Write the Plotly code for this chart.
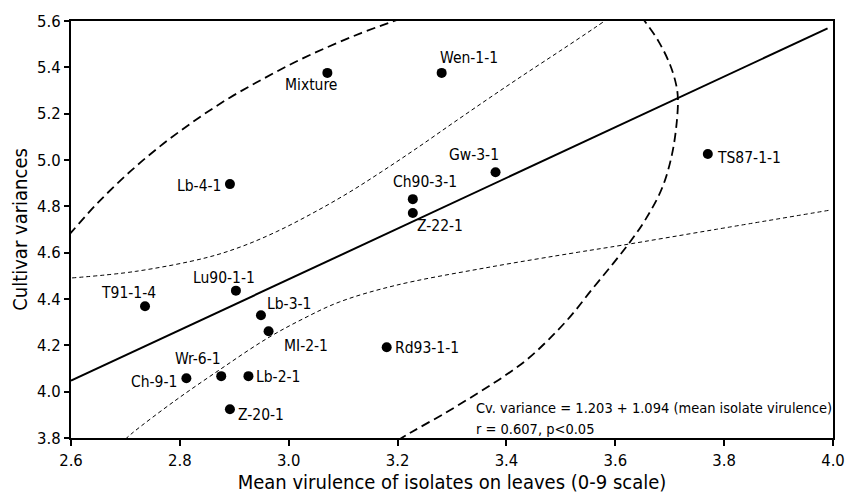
import plotly.graph_objects as go

# Isolate means: virulence on leaves vs cultivar variance
isolates = ["Lb-4-1", "Mixture", "Wen-1-1", "Gw-3-1", "Ch90-3-1", "Z-22-1",
            "TS87-1-1", "Rd93-1-1", "T91-1-4", "Lu90-1-1", "Lb-3-1", "MI-2-1",
            "Wr-6-1", "Ch-9-1", "Lb-2-1", "Z-20-1"]
mean_virulence = [2.892, 3.071, 3.281, 3.380, 3.228, 3.228,
                  3.770, 3.180, 2.736, 2.903, 2.949, 2.963,
                  2.876, 2.812, 2.926, 2.892]
cultivar_variance = [4.896, 5.376, 5.376, 4.947, 4.831, 4.771,
                     5.026, 4.192, 4.369, 4.436, 4.330, 4.261,
                     4.067, 4.058, 4.067, 3.924]

# Fitted regression: Cv. variance = 1.203 + 1.094 (mean isolate virulence)
intercept = 1.203
slope = 1.094
fit_x = [2.6, 3.99]

# Confidence bands around the fit
band_upper_x = [2.602, 2.718, 2.848, 2.914, 2.977, 3.042, 3.108, 3.171, 3.236,
                3.302, 3.367, 3.432, 3.498, 3.563, 3.595]
band_upper_y = [4.491, 4.519, 4.578, 4.627, 4.690, 4.768, 4.856, 4.950, 5.052,
                5.160, 5.265, 5.368, 5.470, 5.572, 5.624]
band_lower_x = [2.700, 2.714, 2.790, 2.874, 2.959, 3.026, 3.093, 3.195, 3.363,
                3.532, 3.612, 3.786, 3.993]
band_lower_y = [3.795, 3.824, 3.959, 4.096, 4.228, 4.314, 4.387, 4.458, 4.535,
                4.602, 4.632, 4.701, 4.783]

# Confidence ellipse (left arc and right arc)
ellipse_left_x = [2.580, 2.602, 2.650, 2.710, 2.770, 2.831, 2.891, 2.952, 3.012,
                  3.073, 3.133, 3.184, 3.233]
ellipse_left_y = [4.634, 4.692, 4.817, 4.953, 5.071, 5.176, 5.268, 5.349, 5.423,
                  5.489, 5.548, 5.592, 5.633]
ellipse_right_x = [3.632, 3.653, 3.680, 3.701, 3.712, 3.715, 3.713, 3.704, 3.686,
                   3.657, 3.628, 3.597, 3.557, 3.518, 3.478, 3.438, 3.396, 3.349,
                   3.289, 3.226, 3.204]
ellipse_right_y = [5.668, 5.603, 5.510, 5.409, 5.323, 5.266, 5.165, 5.022, 4.879,
                   4.749, 4.649, 4.556, 4.441, 4.326, 4.226, 4.139, 4.067, 3.996,
                   3.910, 3.826, 3.795]

x_ticks = [2.6, 2.8, 3.0, 3.2, 3.4, 3.6, 3.8, 4.0]
y_ticks = [3.8, 4.0, 4.2, 4.4, 4.6, 4.8, 5.0, 5.2, 5.4, 5.6]

# label placement (pixel offsets from each point, anchor side)
label_style = {
    "Lb-4-1": (-7, -2, "right"), "Mixture": (-16, -12, "center"),
    "Wen-1-1": (27, 15, "center"), "Gw-3-1": (-22, 17, "center"),
    "Ch90-3-1": (12, 17, "center"), "Z-22-1": (27, -13, "center"),
    "TS87-1-1": (7, -4, "left"), "Rd93-1-1": (6, -1, "left"),
    "T91-1-4": (-17, 13, "center"), "Lu90-1-1": (-12, 13, "center"),
    "Lb-3-1": (28, 11, "center"), "MI-2-1": (37, -15, "center"),
    "Wr-6-1": (-23, 17, "center"), "Ch-9-1": (-7, -4, "right"),
    "Lb-2-1": (6, -1, "left"), "Z-20-1": (6, -6, "left"),
}

FONT = "DejaVu Sans Condensed, Liberation Sans Narrow, sans-serif"

fig = go.Figure()

long_dash = dict(color="black", width=1.8, dash="9px,5px", shape="spline")
short_dash = dict(color="black", width=1, dash="4px,3px", shape="spline")

fig.add_trace(go.Scatter(x=ellipse_left_x, y=ellipse_left_y, mode="lines",
                         line=long_dash, hoverinfo="skip"))
fig.add_trace(go.Scatter(x=ellipse_right_x, y=ellipse_right_y, mode="lines",
                         line=long_dash, hoverinfo="skip"))
fig.add_trace(go.Scatter(x=band_upper_x, y=band_upper_y, mode="lines",
                         line=short_dash, hoverinfo="skip"))
fig.add_trace(go.Scatter(x=band_lower_x, y=band_lower_y, mode="lines",
                         line=short_dash, hoverinfo="skip"))
fig.add_trace(go.Scatter(x=fit_x, y=[intercept + slope * v for v in fit_x], mode="lines",
                         line=dict(color="black", width=2), hoverinfo="skip"))
fig.add_trace(go.Scatter(x=mean_virulence, y=cultivar_variance, mode="markers",
                         marker=dict(color="black", size=10), text=isolates))

for name, xv, yv in zip(isolates, mean_virulence, cultivar_variance):
    dx, dy, anchor = label_style[name]
    fig.add_annotation(x=xv, y=yv, text=name, showarrow=False,
                       xshift=dx, yshift=dy, xanchor=anchor, yanchor="middle",
                       font=dict(family=FONT, size=15.5, color="black"))

fig.add_annotation(x=3.340, y=3.930, text="Cv. variance = 1.203 + 1.094 (mean isolate virulence)",
                   showarrow=False, xanchor="left", yanchor="middle",
                   font=dict(family=FONT, size=14.5, color="black"))
fig.add_annotation(x=3.340, y=3.838, text="r = 0.607, p<0.05",
                   showarrow=False, xanchor="left", yanchor="middle",
                   font=dict(family=FONT, size=14.5, color="black"))

axis_common = dict(showgrid=False, zeroline=False, showline=True, linecolor="black",
                   linewidth=2, mirror=True, ticks="outside", tickcolor="black",
                   tickwidth=2, tickformat=".1f",
                   tickfont=dict(family=FONT, size=16.5, color="black"))

fig.update_layout(
    width=857, height=503,
    margin=dict(l=71, r=14, t=21, b=65),
    paper_bgcolor="white", plot_bgcolor="white",
    showlegend=False,
    xaxis=dict(range=[2.6, 4.0], tickvals=x_ticks, ticklen=6,
               title=dict(text="Mean virulence of isolates on leaves (0-9 scale)",
                          font=dict(family=FONT, size=20, color="black"), standoff=6),
               **axis_common),
    yaxis=dict(range=[3.8, 5.6], tickvals=y_ticks, ticklen=5,
               title=dict(text="Cultivar variances",
                          font=dict(family=FONT, size=20, color="black"), standoff=4),
               **axis_common),
)

fig.write_html("out.html")
